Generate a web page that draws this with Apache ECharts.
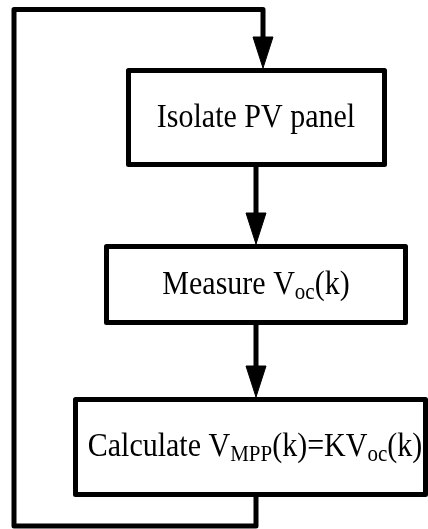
<!DOCTYPE html>
<html>
<head>
<meta charset="utf-8">
<script src="https://cdn.jsdelivr.net/npm/echarts@6/dist/echarts.min.js"></script>
<style>html,body{margin:0;padding:0;background:#fff;}#c{width:428px;height:529px;}</style>
</head>
<body>
<div id="c"></div>
<script>
// Flowchart content: step labels as [text, style] segments ('n' normal, 's' subscript)
const stepLabels = [
  [['Isolate PV panel', 'n']],
  [['Measure V', 'n'], ['oc', 's'], ['(k)', 'n']],
  [['Calculate V', 'n'], ['MPP', 's'], ['(k)=KV', 'n'], ['oc', 's'], ['(k)', 'n']]
];

// Layout (pixels)
const boxLayout = [
  { x: 128.5, y: 70.5, w: 256, h: 94, tx: 256, ty: 118 },
  { x: 106.5, y: 246.5, w: 299, h: 76, tx: 256, ty: 285 },
  { x: 75.5, y: 399.5, w: 350, h: 95, tx: 255, ty: 447 }
];
const arrowX = 256;
const LW = 5;

const chart = echarts.init(document.getElementById('c'), null, { renderer: 'canvas' });
const elements = [];

function arrowHead(cx, baseY, tipY) {
  return {
    type: 'polygon',
    shape: { points: [[cx - 10, baseY], [cx + 10, baseY], [cx, tipY]] },
    style: { fill: '#000', stroke: '#000', lineWidth: 1 }
  };
}
function vline(x, y1, y2) {
  return {
    type: 'line',
    shape: { x1: x, y1: y1, x2: x, y2: y2 },
    style: { stroke: '#000', lineWidth: LW }
  };
}

// connectors between consecutive boxes
for (let i = 0; i < boxLayout.length - 1; i++) {
  const a = boxLayout[i], b = boxLayout[i + 1];
  const bottom = a.y + a.h;
  const tip = b.y - LW / 2;
  elements.push(vline(arrowX, bottom, tip - 29));
  elements.push(arrowHead(arrowX, tip - 31, tip));
}

// feedback loop
const last = boxLayout[boxLayout.length - 1];
const first = boxLayout[0];
elements.push({
  type: 'polyline',
  shape: { points: [[arrowX, last.y + last.h], [arrowX, 526], [14, 526], [14, 9.5], [263, 9.5], [263, 40]] },
  style: { stroke: '#000', lineWidth: LW, lineJoin: 'round', fill: null }
});
elements.push(arrowHead(263, 37, first.y - LW / 2));

// boxes + labels
stepLabels.forEach((segs, i) => {
  const b = boxLayout[i];
  elements.push({
    type: 'rect',
    shape: { x: b.x, y: b.y, width: b.w, height: b.h },
    style: { fill: '#fff', stroke: '#000', lineWidth: LW, lineJoin: 'round' },
    z: 10
  });
  const rich = segs.map(s => '{' + s[1] + '|' + s[0] + '}').join('');
  elements.push({
    type: 'text',
    x: b.tx, y: b.ty,
    scaleY: 1.1,
    z: 11,
    style: {
      text: rich,
      align: 'center',
      verticalAlign: 'middle',
      fill: '#000',
      rich: {
        n: { fontFamily: 'Liberation Serif', fontSize: 30, lineHeight: 36, fill: '#000', verticalAlign: 'middle' },
        s: { fontFamily: 'Liberation Serif', fontSize: 21, lineHeight: 21, fill: '#000', verticalAlign: 'bottom' }
      }
    }
  });
});

chart.setOption({
  backgroundColor: '#fff',
  animation: false,
  graphic: { elements: elements }
});
</script>
</body>
</html>
